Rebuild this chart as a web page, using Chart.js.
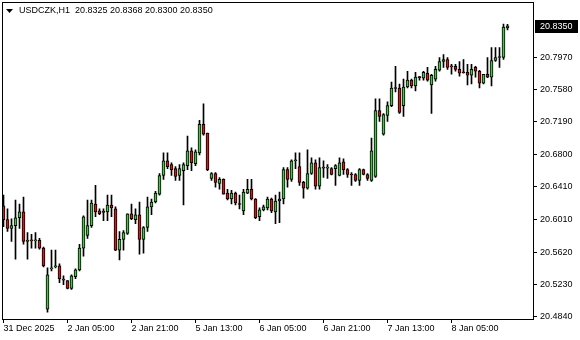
<!doctype html>
<html>
<head>
<meta charset="utf-8">
<script src="https://cdn.jsdelivr.net/npm/chart.js@4.4.1/dist/chart.umd.min.js"></script>
<style>
	html, body { margin: 0; padding: 0; background: #fff; }
</style>
</head>
<body>
<canvas id="myChart" width="580" height="340"></canvas>
<script>
// USDCZK H1 candles
var symbolName = 'USDCZK,H1';

var openPrices = [
	20.6177, 20.6011, 20.5904, 20.5939, 20.6034, 20.6105, 20.5750, 20.5762, 20.5756, 20.5762,
	20.5667, 20.4932, 20.5418, 20.5441, 20.5453, 20.5288, 20.5276, 20.5181, 20.5323, 20.5406,
	20.5667, 20.5821, 20.5939, 20.6200, 20.6117, 20.6105, 20.6105, 20.6188, 20.6141, 20.5643,
	20.5774, 20.5845, 20.6082, 20.6011, 20.6070, 20.5774, 20.5916, 20.6165, 20.6224, 20.6319,
	20.6544, 20.6722, 20.6674, 20.6627, 20.6544, 20.6603, 20.6663, 20.6840, 20.6686, 20.6817,
	20.7161, 20.7054, 20.6508, 20.6568, 20.6449, 20.6497, 20.6331, 20.6260, 20.6331, 20.6200,
	20.6117, 20.6331, 20.6378, 20.6260, 20.6046, 20.6129, 20.6153, 20.6260, 20.6105, 20.6236,
	20.6260, 20.6615, 20.6497, 20.6722, 20.6651, 20.6461, 20.6390, 20.6568, 20.6698, 20.6414,
	20.6639, 20.6633, 20.6627, 20.6627, 20.6544, 20.6710, 20.6615, 20.6556, 20.6556, 20.6485,
	20.6615, 20.6556, 20.6485, 20.6532, 20.7327, 20.7042, 20.7267, 20.7386, 20.7599, 20.7599,
	20.7386, 20.7611, 20.7694, 20.7623, 20.7730, 20.7718, 20.7777, 20.7635, 20.7706, 20.7813,
	20.7919, 20.7943, 20.7860, 20.7860, 20.7824, 20.7789, 20.7789, 20.7753, 20.7848, 20.7801,
	20.7658, 20.7765, 20.7730, 20.7931, 20.7967, 20.7967, 20.8325
];
var highPrices = [
	20.6307, 20.6141, 20.6022, 20.6248, 20.6200, 20.6283, 20.5856, 20.5833, 20.5856, 20.5785,
	20.5679, 20.5430, 20.5643, 20.5643, 20.5477, 20.5335, 20.5276, 20.5347, 20.5418, 20.5714,
	20.6058, 20.6248, 20.6248, 20.6425, 20.6141, 20.6141, 20.6307, 20.6307, 20.6165, 20.5868,
	20.5880, 20.6082, 20.6200, 20.6141, 20.6224, 20.5928, 20.6283, 20.6260, 20.6354, 20.6568,
	20.6817, 20.6817, 20.6698, 20.6651, 20.6674, 20.6698, 20.7018, 20.6876, 20.6852, 20.7208,
	20.7409, 20.7054, 20.6580, 20.6580, 20.6520, 20.6503, 20.6378, 20.6366, 20.6343, 20.6307,
	20.6378, 20.6497, 20.6497, 20.6266, 20.6153, 20.6188, 20.6283, 20.6271, 20.6307, 20.6343,
	20.6639, 20.6639, 20.6734, 20.6817, 20.6817, 20.6473, 20.6852, 20.6757, 20.6734, 20.6757,
	20.6722, 20.6674, 20.6639, 20.6674, 20.6757, 20.6746, 20.6627, 20.6580, 20.6568, 20.6627,
	20.6621, 20.6568, 20.6995, 20.7469, 20.7469, 20.7291, 20.7433, 20.7670, 20.7860, 20.7647,
	20.7706, 20.7801, 20.7706, 20.7789, 20.7741, 20.7801, 20.7848, 20.7765, 20.7860, 20.7967,
	20.8002, 20.7967, 20.7884, 20.7884, 20.7919, 20.7943, 20.7884, 20.7884, 20.7860, 20.7813,
	20.7765, 20.7967, 20.8085, 20.8085, 20.8085, 20.8370, 20.8368
];
var lowPrices = [
	20.5928, 20.5868, 20.5750, 20.5536, 20.5904, 20.5714, 20.5536, 20.5667, 20.5667, 20.5655,
	20.5441, 20.4896, 20.5394, 20.5430, 20.5252, 20.5228, 20.5175, 20.5169, 20.5299, 20.5394,
	20.5572, 20.5785, 20.5916, 20.6046, 20.6070, 20.5999, 20.5999, 20.6046, 20.5637, 20.5525,
	20.5643, 20.5833, 20.6011, 20.5963, 20.5596, 20.5608, 20.5868, 20.6070, 20.6212, 20.6307,
	20.6497, 20.6627, 20.6544, 20.6485, 20.6485, 20.6188, 20.6615, 20.6603, 20.6663, 20.6793,
	20.7030, 20.6603, 20.6485, 20.6402, 20.6378, 20.6319, 20.6248, 20.6200, 20.6188, 20.6141,
	20.6070, 20.6325, 20.6248, 20.6022, 20.5999, 20.6117, 20.6129, 20.6094, 20.5963, 20.5975,
	20.6200, 20.6402, 20.6473, 20.6627, 20.6425, 20.6271, 20.6378, 20.6556, 20.6378, 20.6378,
	20.6520, 20.6508, 20.6550, 20.6425, 20.6538, 20.6556, 20.6520, 20.6425, 20.6473, 20.6425,
	20.6550, 20.6485, 20.6473, 20.6520, 20.7196, 20.7030, 20.7196, 20.7374, 20.7552, 20.7291,
	20.7255, 20.7599, 20.7599, 20.7564, 20.7694, 20.7694, 20.7682, 20.7291, 20.7682, 20.7801,
	20.7848, 20.7824, 20.7765, 20.7801, 20.7741, 20.7777, 20.7635, 20.7647, 20.7730, 20.7599,
	20.7647, 20.7724, 20.7623, 20.7919, 20.7848, 20.7943, 20.8300
];
var closePrices = [
	20.6011, 20.5904, 20.5939, 20.6034, 20.6105, 20.5750, 20.5762, 20.5756, 20.5762, 20.5667,
	20.5453, 20.5347, 20.5424, 20.5453, 20.5299, 20.5282, 20.5181, 20.5335, 20.5406, 20.5667,
	20.6046, 20.5939, 20.6212, 20.6105, 20.6082, 20.6099, 20.6188, 20.6153, 20.5643, 20.5774,
	20.5856, 20.6082, 20.6022, 20.6070, 20.5774, 20.5916, 20.6165, 20.6224, 20.6331, 20.6544,
	20.6722, 20.6651, 20.6615, 20.6532, 20.6627, 20.6674, 20.6840, 20.6698, 20.6829, 20.7161,
	20.7042, 20.6615, 20.6568, 20.6461, 20.6497, 20.6319, 20.6260, 20.6331, 20.6212, 20.6194,
	20.6343, 20.6378, 20.6260, 20.6034, 20.6129, 20.6165, 20.6260, 20.6117, 20.6236, 20.6260,
	20.6615, 20.6497, 20.6722, 20.6734, 20.6461, 20.6390, 20.6568, 20.6698, 20.6414, 20.6639,
	20.6633, 20.6639, 20.6556, 20.6663, 20.6698, 20.6615, 20.6556, 20.6550, 20.6485, 20.6615,
	20.6556, 20.6508, 20.6840, 20.7327, 20.7255, 20.7279, 20.7386, 20.7599, 20.7593, 20.7303,
	20.7611, 20.7694, 20.7623, 20.7730, 20.7724, 20.7789, 20.7694, 20.7753, 20.7824, 20.7919,
	20.7943, 20.7848, 20.7854, 20.7824, 20.7777, 20.7783, 20.7753, 20.7824, 20.7801, 20.7658,
	20.7765, 20.7730, 20.7931, 20.7967, 20.7979, 20.8334, 20.8350
];

// time axis labels and the bar each one sits on
var xTickLabels = ['31 Dec 2025', '2 Jan 05:00', '2 Jan 21:00', '5 Jan 13:00', '6 Jan 05:00', '6 Jan 21:00', '7 Jan 13:00', '8 Jan 05:00'];
var xTickBars = [0, 16, 32, 48, 64, 80, 96, 112];

// price scale labels
var yTicks = [20.4840, 20.5230, 20.5620, 20.6010, 20.6410, 20.6800, 20.7190, 20.7580, 20.7970];

var bullColor = '#3ccc3c';
var bearColor = '#e01414';
var fontFam = "'Liberation Sans', Arial, sans-serif";

var wickData = [];
var bodyData = [];
var bodyColors = [];
for (var i = 0; i < openPrices.length; i++) {
	wickData.push({ x: i, y: [lowPrices[i], highPrices[i]] });
	bodyData.push({ x: i, y: [openPrices[i], closePrices[i]] });
	bodyColors.push(closePrices[i] >= openPrices[i] ? bullColor : bearColor);
}

var last = openPrices.length - 1;
var lastPrice = closePrices[last];

var mtDecor = {
	id: 'mtDecor',
	afterDraw: function (chart) {
		var ctx = chart.ctx;
		var yScale = chart.scales.y;
		ctx.save();
		// frame
		ctx.strokeStyle = '#000';
		ctx.lineWidth = 1;
		ctx.strokeRect(2.5, 2.5, 531, 317);

		// title line
		ctx.fillStyle = '#000';
		ctx.beginPath();
		ctx.moveTo(6, 9);
		ctx.lineTo(13, 9);
		ctx.lineTo(9.5, 13);
		ctx.closePath();
		ctx.fill();
		ctx.font = '9px ' + fontFam;
		ctx.textBaseline = 'middle';
		ctx.textAlign = 'left';
		var info = symbolName + '  ' + [openPrices[last], highPrices[last], lowPrices[last], closePrices[last]]
			.map(function (v) { return v.toFixed(4); }).join(' ');
		ctx.fillText(info, 19, 11);

		// current price marker
		var py = Math.round(yScale.getPixelForValue(lastPrice));
		ctx.fillStyle = '#000';
		ctx.fillRect(535, py - 6, 43, 13);
		ctx.fillStyle = '#fff';
		ctx.fillText(lastPrice.toFixed(4), 540, py + 0.5);
		ctx.restore();
	}
};

var ctx = document.getElementById('myChart');
var myChart = new Chart(ctx, {
	type: 'bar',
	data: {
		datasets: [
			{
				label: 'body',
				data: bodyData,
				backgroundColor: bodyColors,
				borderColor: '#000',
				borderWidth: 1,
				borderSkipped: false,
				barThickness: 3,
				minBarLength: 1,
				grouped: false
			},
			{
				label: 'wick',
				data: wickData,
				backgroundColor: '#000',
				borderWidth: 0,
				barThickness: 1,
				grouped: false
			}
		]
	},
	options: {
		responsive: false,
		animation: false,
		layout: { padding: { left: 2, top: 3, right: 0, bottom: 0 } },
		plugins: {
			legend: { display: false },
			tooltip: { enabled: false }
		},
		scales: {
			x: {
				type: 'linear',
				min: -0.375,
				max: 132.375,
				offset: false,
				afterBuildTicks: function (s) {
					s.ticks = xTickBars.map(function (v) { return { value: v }; });
				},
				afterFit: function (s) { s.height = 21; },
				grid: { drawOnChartArea: false, offset: false, tickLength: 4, tickColor: '#000' },
				border: { display: false },
				ticks: {
					autoSkip: false,
					maxRotation: 0,
					minRotation: 0,
					align: 'start',
					padding: 0,
					color: '#000',
					font: { family: fontFam, size: 9 },
					callback: function (v, idx) { return xTickLabels[idx]; }
				}
			},
			y: {
				position: 'right',
				min: 20.4813,
				max: 20.8559,
				afterBuildTicks: function (s) {
					s.ticks = yTicks.map(function (v) { return { value: v }; });
				},
				afterFit: function (s) { s.width = 47; },
				grid: { drawOnChartArea: false, tickLength: 4, tickColor: '#000' },
				border: { display: false },
				ticks: {
					autoSkip: false,
					padding: 3,
					color: '#000',
					font: { family: fontFam, size: 9 },
					callback: function (v) { return v.toFixed(4); }
				}
			}
		}
	},
	plugins: [mtDecor]
});
</script>
</body>
</html>
